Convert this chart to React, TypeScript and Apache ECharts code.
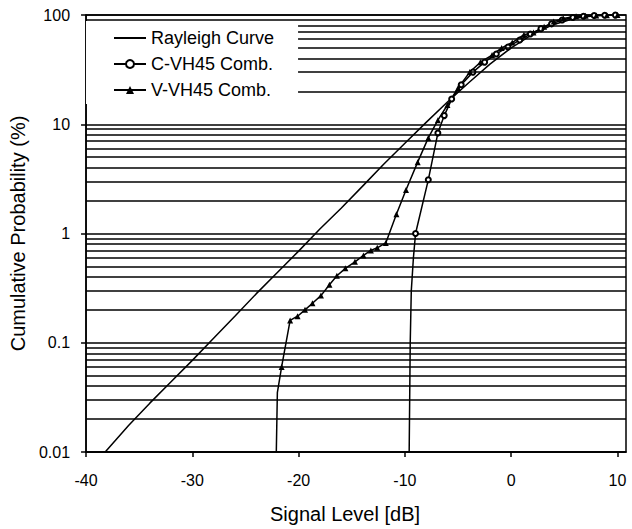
import React, { useEffect, useRef } from "react";
import * as echarts from "echarts";

// Rayleigh reference curve
const rayleighX = [-38.2, -36, -34, -32, -30, -28, -26, -24, -22, -20, -18, -16, -14, -12, -10, -8, -6, -4, -2, 0, 2, 4, 6, 8, 10];
const rayleighY = [0.01, 0.0175, 0.028, 0.044, 0.069, 0.11, 0.175, 0.28, 0.44, 0.69, 1.1, 1.7, 2.7, 4.3, 6.7, 10.4, 16, 24, 35.5, 50, 66.5, 82, 93.5, 99, 99.9];

// C-VH45 Comb. (open circles)
const cX = [-9.6, -9.5, -9.4, -9.2, -9.0, -7.8, -6.9, -6.3, -5.6, -4.7, -3.6, -2.5, -1.4, -0.3, 0.8, 1.8, 2.8, 3.8, 4.8, 5.8, 6.8, 7.8, 8.8, 9.8];
const cY = [0.01, 0.1, 0.3, 0.6, 1.0, 3.1, 8.3, 12, 17, 23, 30, 37, 44, 51, 59, 67, 75, 83, 90, 95, 97.5, 98.8, 99.4, 99.8];
const cNoMarker = 4; // first points drawn without markers

// V-VH45 Comb. (filled triangles)
const vX = [-22.1, -22.0, -21.6, -20.8, -20.1, -19.4, -18.7, -17.9, -17.1, -16.4, -15.6, -14.7, -13.9, -13.2, -12.6, -11.8, -10.8, -9.9, -8.8, -7.8, -6.9, -6.0, -5.0, -3.9, -2.9, -1.8, -0.9, 0.1, 1.2, 2.1, 3.1, 4.0, 4.9, 6.1, 7.0, 8.0, 9.0, 10.0];
const vY = [0.01, 0.035, 0.06, 0.16, 0.175, 0.2, 0.23, 0.27, 0.34, 0.41, 0.48, 0.55, 0.63, 0.7, 0.74, 0.82, 1.5, 2.5, 4.5, 7.5, 10.9, 15, 21.5, 30, 37, 43, 50, 56, 66, 69, 78, 87, 93, 97.5, 98.5, 99.2, 99.6, 99.8];
const vNoMarker = 2;

// minor horizontal grid values
const minorGrid = [
  0.02, 0.03, 0.04, 0.05, 0.06, 0.07, 0.08, 0.09,
  0.2, 0.3, 0.4, 0.5, 0.6, 0.7, 0.8, 0.9,
  2, 3, 4, 5, 6, 7, 8, 9,
  20, 30, 40, 50, 60, 70, 80, 90,
];

const seriesNames = ["Rayleigh Curve", "C-VH45 Comb.", "V-VH45 Comb."];

const FONT = "'Liberation Sans', Arial, sans-serif";

export default function App() {
  const ref = useRef<HTMLDivElement>(null);
  useEffect(() => {
    document.body.style.margin = "0";
    if (!ref.current) return;
    const chart = echarts.init(ref.current, undefined, { renderer: "svg" });
    const pairs = (xs: number[], ys: number[], noMarker = 0) =>
      xs.map((x, i) =>
        i < noMarker ? { value: [x, ys[i]], symbol: "none" } : { value: [x, ys[i]] }
      );
    chart.setOption({
      animation: false,
      backgroundColor: "#fff",
      textStyle: { fontFamily: FONT, color: "#000" },
      grid: {
        left: 84,
        top: 15,
        right: 6,
        bottom: 77,
        show: true,
        borderColor: "#000",
        borderWidth: 1.5,
      },
      legend: {
        data: seriesNames.map((n) => ({ name: n })),
        orient: "vertical",
        z: 10,
        left: 86,
        top: 21,
        padding: [8, 24, 5, 27],
        backgroundColor: "#fff",
        itemWidth: 32,
        itemHeight: 10,
        itemGap: 8,
        textStyle: { fontFamily: FONT, fontSize: 18, color: "#000" },
        inactiveColor: "#000",
      },
      xAxis: {
        type: "value",
        min: -40,
        max: 10.8,
        interval: 10,
        name: "Signal Level [dB]",
        nameLocation: "middle",
        nameGap: 52,
        nameTextStyle: { fontFamily: FONT, fontSize: 20, color: "#000", padding: [0, 22, 0, 0] },
        axisLine: { onZero: false, lineStyle: { color: "#000", width: 1.5 } },
        axisTick: { show: true, length: 5, lineStyle: { color: "#000", width: 1.5 } },
        axisLabel: {
          fontFamily: FONT,
          fontSize: 16,
          color: "#000",
          margin: 20,
          showMaxLabel: false,
          formatter: (v: number) => (Math.abs(v % 10) < 1e-9 ? String(v) : ""),
        },
        splitLine: { show: false },
      },
      yAxis: {
        type: "log",
        logBase: 10,
        min: 0.01,
        max: 100,
        name: "Cumulative Probability (%)",
        nameLocation: "middle",
        nameGap: 38,
        nameTextStyle: { fontFamily: FONT, fontSize: 20, color: "#000" },
        axisLine: { show: true, onZero: false, lineStyle: { color: "#000", width: 1.5 } },
        axisTick: { show: true, length: 5, lineStyle: { color: "#000", width: 1.5 } },
        axisLabel: {
          fontFamily: FONT,
          fontSize: 16,
          color: "#000",
          margin: 16,
          formatter: (v: number) => String(Number(v.toPrecision(6))),
        },
        splitLine: { show: true, lineStyle: { color: "#000", width: 1.5 } },
      },
      series: [
        {
          name: seriesNames[0],
          type: "line",
          symbol: "none",
          data: pairs(rayleighX, rayleighY),
          lineStyle: { color: "#000", width: 1.5 },
          itemStyle: { color: "#000", opacity: 0 },
          markLine: {
            silent: true,
            symbol: ["none", "none"],
            label: { show: false },
            lineStyle: { color: "#000", width: 1.5, type: "solid", opacity: 1 },
            data: minorGrid.map((v) => ({ yAxis: v })),
          },
        },
        {
          name: seriesNames[1],
          type: "line",
          symbol: "emptyCircle",
          symbolSize: 5,
          data: pairs(cX, cY, cNoMarker),
          lineStyle: { color: "#000", width: 1.5 },
          itemStyle: { color: "#000", borderWidth: 1 },
        },
        {
          name: seriesNames[2],
          type: "line",
          symbol: "triangle",
          symbolSize: 6,
          data: pairs(vX, vY, vNoMarker),
          lineStyle: { color: "#000", width: 1.5 },
          itemStyle: { color: "#000" },
        },
      ],
    });
    return () => chart.dispose();
  }, []);
  return <div ref={ref} style={{ width: 632, height: 529 }} />;
}
